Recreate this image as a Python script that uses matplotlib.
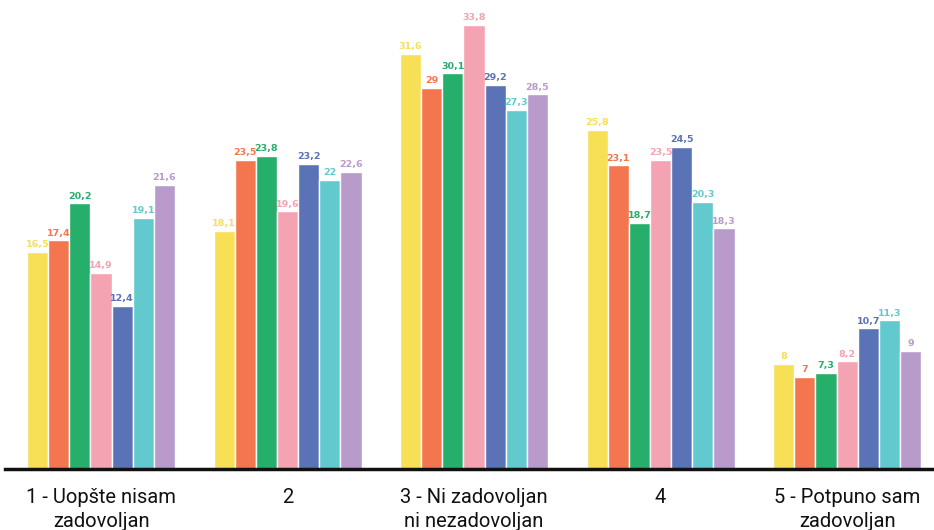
import numpy as np
import matplotlib
matplotlib.use("Agg")
import matplotlib.pyplot as plt

categories = ["1 - Uopšte nisam\nzadovoljan", "2", "3 - Ni zadovoljan\nni nezadovoljan",
              "4", "5 - Potpuno sam\nzadovoljan"]

s1 = [16.5, 18.1, 31.6, 25.8, 8.0]
s2 = [17.4, 23.5, 29.0, 23.1, 7.0]
s3 = [20.2, 23.8, 30.1, 18.7, 7.3]
s4 = [14.9, 19.6, 33.8, 23.5, 8.2]
s5 = [12.4, 23.2, 29.2, 24.5, 10.7]
s6 = [19.1, 22.0, 27.3, 20.3, 11.3]
s7 = [21.6, 22.6, 28.5, 18.3, 9.0]
series = [s1, s2, s3, s4, s5, s6, s7]

colors = ["#F7DF56", "#F4764E", "#26AE6B", "#F4A3B3", "#5A72B6", "#62C9CE", "#B99BCB"]


def fmt(v):
    t = f"{v:.1f}".replace(".", ",")
    return t[:-2] if t.endswith(",0") else t


fig = plt.figure(figsize=(9.34, 5.30), dpi=100)
ax = fig.add_axes([5 / 934, 61 / 530, 929 / 934, 469 / 530])

x = np.arange(len(categories))
w = 0.1134
for i, (vals, c) in enumerate(zip(series, colors)):
    pos = x + (i - 3) * w
    ax.bar(pos, vals, width=w, color=c, edgecolor="white", linewidth=1.0, zorder=2)
    for px, v in zip(pos, vals):
        ax.text(px, v + 0.2, fmt(v), ha="center", va="bottom", color=c,
                fontsize=6.8, fontweight="bold", family="DejaVu Sans")

ax.set_xlim(-0.515, 4.466)
ax.set_ylim(0, 35.67)
ax.set_yticks([])
ax.set_xticks(x)
ax.set_xticklabels(categories, fontsize=14.5, family=["Roboto", "DejaVu Sans"],
                   linespacing=1.3, color="#111111")
ax.tick_params(axis="x", length=0, pad=14)
for sp in ["top", "right", "left"]:
    ax.spines[sp].set_visible(False)
ax.spines["bottom"].set_linewidth(2.5)
ax.spines["bottom"].set_color("#111111")

fig.savefig("out.png", dpi=100)
